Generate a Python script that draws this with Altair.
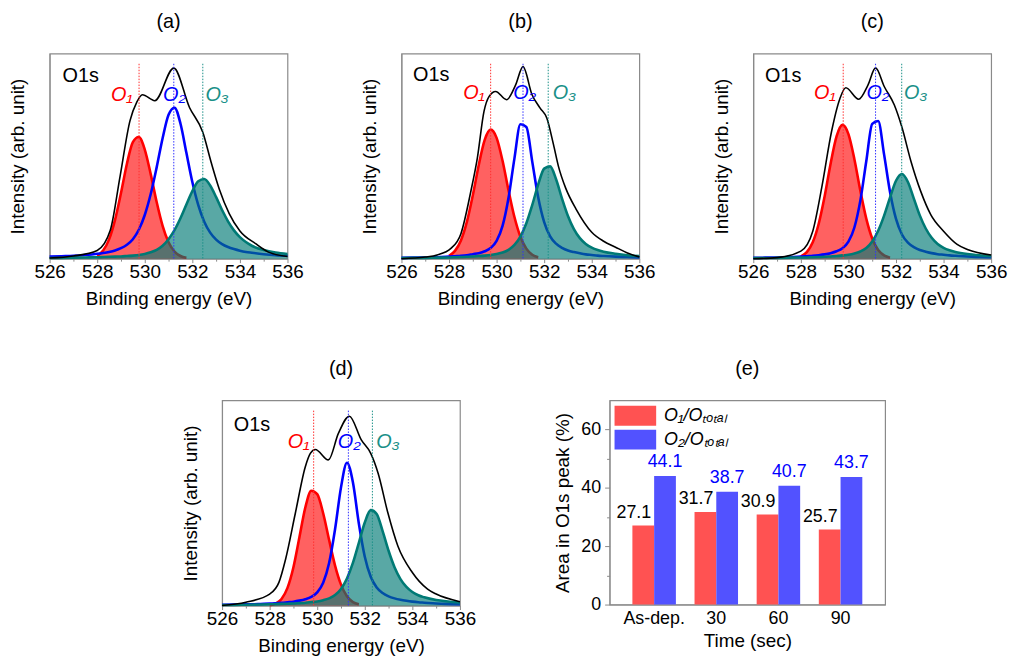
import altair as alt
import pandas as pd

FONT = "Liberation Sans, Arial, Helvetica, sans-serif"
N = None

# ---------------- XPS O1s spectra (panels a-d) ----------------
# binding-energy grid shared by the fitted components (eV)
E = [526, 526.5, 527, 527.5, 528, 528.25, 528.5, 528.75, 529, 529.25, 529.5, 529.75, 530, 530.25,
     530.5, 530.75, 531, 531.25, 531.5, 531.75, 532, 532.25, 532.5, 532.75, 533, 533.25, 533.5,
     533.75, 534, 534.25, 534.5, 535, 535.5, 536]

A_O1 = [N, N, N, N, 1.4, 4, 9.4, 18.9, 32, 46.3, 56.8, 59.3, 53.2, 41.2, 27.6, 16, 8, 3.5, 1.3, 0.4,
        N, N, N, N, N, N, N, N, N, N, N, N, N, N]
A_O2 = [1, 1.2, 1.4, 1.8, 2.4, 2.8, 3.3, 4, 5.1, 6.8, 9.5, 14.1, 21.3, 31.5, 44.5, 58.7, 70.1, 73.6, 65.9,
        51.6, 37.4, 26.1, 18, 12.7, 9.3, 7.1, 5.7, 4.7, 3.9, 3.3, 2.9, 2.2, 1.7, 1.4]
A_O3 = [0.3, 0.4, 0.5, 0.6, 0.7, 0.8, 0.9, 1, 1.1, 1.3, 1.5, 1.8, 2.3, 3.1, 4.3, 6.3, 9.5, 13.9, 19.7,
        26.4, 32.9, 37.7, 38.8, 35.7, 30, 23.7, 18.2, 13.8, 10.5, 8.1, 6.3, 4.2, 3, 2.3]
B_O1 = [N, N, N, N, 1.4, 3.8, 8.9, 17.9, 30.9, 45.7, 57.9, 62.9, 58.9, 47.7, 33.4, 20.3, 10.7, 4.9, 1.9, 0.7,
        N, N, N, N, N, N, N, N, N, N, N, N, N, N]
B_O2 = [0.4, 0.5, 0.6, 0.8, 1, 1.2, 1.4, 1.7, 2.2, 2.7, 3.6, 5.2, 8.7, 16, 29.6, 48.9, 65.5, 64.2, 47.2,
        29.8, 17.8, 10.9, 7.3, 5.3, 4, 3.2, 2.6, 2.1, 1.8, 1.5, 1.3, 1, 0.8, 0.6]
B_O3 = [0.3, 0.4, 0.4, 0.5, 0.6, 0.7, 0.8, 0.9, 1.1, 1.3, 1.5, 1.8, 2.3, 3, 4.3, 6.7, 10.8, 17.3, 26.2,
        36.2, 43.9, 45, 38.7, 29.3, 20.8, 14.4, 10, 7.2, 5.4, 4.2, 3.4, 2.4, 1.7, 1.3]
C_O1 = [N, N, N, N, 1.1, 3.2, 8, 17, 30.4, 46.3, 59.6, 65.2, 60.7, 48.5, 33.2, 19.5, 9.8, 4.2, 1.6, 0.5,
        N, N, N, N, N, N, N, N, N, N, N, N, N, N]
C_O2 = [0.4, 0.5, 0.6, 0.8, 1, 1.2, 1.4, 1.7, 2.1, 2.7, 3.6, 5.1, 8.3, 15.2, 28.3, 47.5, 65.7, 67.1, 50.7,
        32.4, 19.4, 11.8, 7.8, 5.6, 4.2, 3.4, 2.7, 2.2, 1.9, 1.6, 1.4, 1.1, 0.8, 0.7]
C_O3 = [0.3, 0.3, 0.4, 0.5, 0.6, 0.6, 0.7, 0.8, 0.9, 1.1, 1.3, 1.6, 1.9, 2.5, 3.5, 5.2, 8.4, 13.6, 21,
        29.9, 38, 41.3, 37.4, 29.3, 21.1, 14.7, 10.2, 7.2, 5.3, 4.1, 3.3, 2.3, 1.7, 1.3]
D_O1 = [N, N, N, N, 0.2, 1, 3.2, 8.6, 18.7, 33.2, 47.8, 56, 54.3, 45, 32, 19.5, 10.2, 4.5, 1.7, 0.6,
        N, N, N, N, N, N, N, N, N, N, N, N, N, N]
D_O2 = [0.4, 0.5, 0.6, 0.7, 1, 1.1, 1.3, 1.6, 1.9, 2.4, 3.1, 4.2, 6.4, 11.1, 20.7, 37.2, 57.6, 69.6, 60.1,
        40, 23.8, 14, 8.8, 6.1, 4.5, 3.5, 2.8, 2.3, 1.9, 1.6, 1.4, 1, 0.8, 0.7]
D_O3 = [0.3, 0.3, 0.4, 0.5, 0.6, 0.7, 0.8, 0.9, 1, 1.2, 1.4, 1.7, 2, 2.6, 3.5, 5.1, 8.1, 13.2, 20.8,
        30.6, 40.5, 46.5, 44.6, 36.3, 26.7, 18.7, 12.9, 9.1, 6.6, 5, 4, 2.7, 2, 1.5]

# measured envelopes (black curves)
A_ENV_E = [526, 527, 528, 528.55, 528.96, 529.38, 529.66, 529.9, 530.42, 531.22, 531.88, 532.44, 532.79,
           533.13, 533.55, 534, 534.66, 535.2, 536]
A_ENV_I = [0.3, 1.3, 4, 13.8, 40, 67.3, 76.2, 79.9, 77, 92.9, 73.7, 61.6, 47, 34, 22, 13.5, 7.3, 3.2, 1.1]
B_ENV_E = [526, 527, 527.5, 528.08, 528.5, 528.92, 529.19, 529.47, 529.68, 529.96, 530.42, 530.8, 531.11,
           531.49, 531.83, 532.11, 532.39, 532.6, 532.9, 533.34, 534, 534.5, 535, 535.5, 536]
B_ENV_I = [0, 0.8, 1.8, 5, 12.2, 33, 49, 71.8, 79, 81.5, 77.5, 84.7, 93.6, 79.9, 73.4, 68.6, 55.7, 45,
           34.5, 24.2, 12.9, 8.5, 5.6, 2.8, 0.8]
C_ENV_E = [526, 527, 528, 528.5, 528.875, 529.29, 529.64, 529.89, 530.43, 530.82, 531.14, 531.51, 531.93,
           532.24, 532.63, 533.04, 533.46, 534, 534.57, 535, 536]
C_ENV_I = [0, 0.5, 3.7, 13.4, 34.5, 62, 78, 83.3, 77.7, 84.6, 93, 83.8, 74.9, 64.4, 47.4, 32.8, 21.5,
           13.4, 7, 4.5, 1.8]
D_ENV_E = [526, 527, 528, 528.39, 528.67, 529.08, 529.5, 529.71, 529.92, 530.47, 530.89, 531.35, 531.86,
           532.25, 532.56, 532.97, 533.39, 534, 534.64, 535, 536]
D_ENV_I = [0, 1.6, 5.6, 11.3, 22.6, 45, 67.7, 74.2, 76.1, 71, 83.9, 92.3, 80.6, 74.2, 64.5, 45.2, 29,
           16.1, 8, 5.6, 1.9]

# peak positions (dotted lines) O1, O2, O3
A_PEAKS = [529.76, 531.22, 532.44]
B_PEAKS = [529.75, 531.11, 532.17]
C_PEAKS = [529.78, 531.14, 532.24]
D_PEAKS = [529.85, 531.31, 532.32]
RULE_TOP = 95

# label anchors: [O1s x, O1s y, O1 x, O2 x, O3 x, O-label y]
A_LAB = [526.54, 88.9, 529.04, 531.25, 533.04, 79.7]
B_LAB = [526.49, 89.5, 529.05, 531.18, 532.85, 80.6]
C_LAB = [526.49, 89.2, 529.01, 531.24, 532.83, 80.6]
D_LAB = [526.49, 87.9, 529.22, 531.35, 532.97, 79.8]

PEAK_NAMES = ["O\u2081", "O\u2082", "O\u2083"]

RED, BLUE, TEAL = "#ff0000", "#0000ff", "#007a75"
RULE_COLORS = ["#ff3030", "#3030ff", "#1a9088"]
LABEL_COLORS = ["#ff0000", "#0000ff", "#1a9088"]

XS = alt.Scale(domain=[526, 536], nice=False, zero=False)
YS = alt.Scale(domain=[0, 100], nice=False)
XAX = alt.Axis(values=list(range(526, 537)), labelExpr="datum.value % 2 == 0 ? datum.label : ''",
               tickSize={"condition": {"test": "datum.value % 2 == 0", "value": 4}, "value": 2.5},
               labelOverlap=False, labelFlush=False, title="Binding energy (eV)", grid=False, format="d",
               labelPadding=0, titlePadding=8)
YAX = alt.Axis(labels=False, ticks=False, title="Intensity (arb. unit)", grid=False, titlePadding=22)


def ex(f="E"):
    return alt.X(f + ":Q", scale=XS, axis=XAX)


def ey(f):
    return alt.Y(f + ":Q", scale=YS, axis=YAX)


def xps(title, o1, o2, o3, env_e, env_i, peaks, lab):
    df = pd.DataFrame({"E": E, "O1": o1, "O2": o2, "O3": o3})
    base = alt.Chart(df)
    env = alt.Chart(pd.DataFrame({"E": env_e, "I": env_i}))
    layers = [
        base.mark_area(color=RED, opacity=0.62, interpolate="monotone").encode(x=ex(), y=ey("O1")),
        base.mark_line(color=RED, strokeWidth=2.6, interpolate="monotone").encode(x=ex(), y=ey("O1")),
        base.mark_line(color=BLUE, strokeWidth=2.6, interpolate="monotone").encode(x=ex(), y=ey("O2")),
        base.mark_area(color=TEAL, opacity=0.65, interpolate="monotone").encode(x=ex(), y=ey("O3")),
        base.mark_line(color=TEAL, strokeWidth=2.6, interpolate="monotone").encode(x=ex(), y=ey("O3")),
        env.mark_line(color="black", strokeWidth=1.6, interpolate="monotone").encode(x=ex(), y=ey("I")),
    ]
    for i in range(3):
        rd = pd.DataFrame({"E": [peaks[i]], "top": [RULE_TOP], "bot": [0]})
        layers.append(alt.Chart(rd).mark_rule(color=RULE_COLORS[i], strokeWidth=1, strokeDash=[1.5, 1.5]).encode(
            x=ex(), y=ey("top"), y2="bot:Q"))
    od = pd.DataFrame({"E": [lab[0]], "v": [lab[1]], "t": ["O1s"]})
    layers.append(alt.Chart(od).mark_text(align="left", baseline="middle", fontSize=20, font=FONT,
                                          color="black").encode(x=ex(), y=ey("v"), text="t:N"))
    for i in range(3):
        td = pd.DataFrame({"E": [lab[2 + i]], "v": [lab[5]], "t": [PEAK_NAMES[i]]})
        layers.append(alt.Chart(td).mark_text(baseline="middle", fontSize=20, font=FONT, fontStyle="italic",
                                              color=LABEL_COLORS[i]).encode(x=ex(), y=ey("v"), text="t:N"))
    return alt.layer(*layers).properties(
        width=240, height=207,
        title=alt.TitleParams(title, fontSize=20, font=FONT, fontWeight="normal", offset=22))


# ---------------- panel (e): area fractions ----------------
times = ["As-dep.", "30", "60", "90"]
o1_ratio = [27.1, 31.7, 30.9, 25.7]
o2_ratio = [44.1, 38.7, 40.7, 43.7]
S1 = "O\u2081/O\u209c\u2092\u209c\u2090\u2097"
S2 = "O\u2082/O\u209c\u2092\u209c\u2090\u2097"

bdf = pd.DataFrame({"time": times * 2, "series": [S1] * 4 + [S2] * 4, "value": o1_ratio + o2_ratio})
bx = alt.X("time:N", sort=times, scale=alt.Scale(paddingInner=0.3, paddingOuter=0.367),
           axis=alt.Axis(title="Time (sec)", labelAngle=0, ticks=False, grid=False, labelPadding=5,
                         titlePadding=4, labelFontSize=18))
bxo = alt.XOffset("series:N", sort=[S1, S2])
by = alt.Y("value:Q", scale=alt.Scale(domain=[0, 70], nice=False),
           axis=alt.Axis(values=[0, 10, 20, 30, 40, 50, 60],
                         labelExpr="datum.value % 20 == 0 ? datum.label : ''",
                         tickSize={"condition": {"test": "datum.value % 20 == 0", "value": 5}, "value": 3},
                         labelOverlap=False, title="Area in O1s peak (%)", grid=False, titlePadding=8,
                         labelPadding=4, labelFontSize=18))
bbase = alt.Chart(bdf)
bars = bbase.mark_bar().encode(
    x=bx, xOffset=bxo, y=by,
    color=alt.Color("series:N", sort=[S1, S2], scale=alt.Scale(domain=[S1, S2], range=["#ff5252", "#5252ff"]),
                    legend=alt.Legend(title=None, orient="top-left", offset=5, padding=0,
                                      symbolType="M-1,-0.95H3V0.95H-1Z", symbolSize=441,
                                      symbolStrokeWidth=0, symbolOpacity=1, labelFontSize=18,
                                      labelFontStyle="italic", labelFont=FONT, rowPadding=3, labelOffset=29)))
t1 = bbase.transform_filter(alt.datum.series == S1).mark_text(
    align="right", baseline="middle", dx=8, dy=-13, fontSize=18, font=FONT, color="black").encode(
    x=bx, xOffset=bxo, y=by, text=alt.Text("value:Q", format=".1f"))
t2 = bbase.transform_filter(alt.datum.series == S2).mark_text(
    align="center", baseline="middle", dy=-14, fontSize=18, font=FONT, color=BLUE).encode(
    x=bx, xOffset=bxo, y=by, text=alt.Text("value:Q", format=".1f"))
pe = alt.layer(bars, t1, t2).properties(
    width=278, height=206,
    title=alt.TitleParams("(e)", fontSize=20, font=FONT, fontWeight="normal", offset=22))

# empty placeholder that shifts panel (d) to the right (same left extent as panel (a))
spacer = alt.Chart(pd.DataFrame({"v": [0]})).mark_point(opacity=0).encode(
    x=alt.X("v:Q", axis=None),
    y=alt.Y("v:Q", axis=alt.Axis(title=" ", labels=False, ticks=False, domain=False, grid=False,
                                 titlePadding=22))
).properties(width=23, height=206, view=alt.ViewBackground(stroke="transparent"))

pa = xps("(a)", A_O1, A_O2, A_O3, A_ENV_E, A_ENV_I, A_PEAKS, A_LAB)
pb = xps("(b)", B_O1, B_O2, B_O3, B_ENV_E, B_ENV_I, B_PEAKS, B_LAB)
pc = xps("(c)", C_O1, C_O2, C_O3, C_ENV_E, C_ENV_I, C_PEAKS, C_LAB)
pd_ = xps("(d)", D_O1, D_O2, D_O3, D_ENV_E, D_ENV_I, D_PEAKS, D_LAB)

row1 = alt.hconcat(pa, pb, pc, spacing=115, bounds="flush")
row2 = alt.hconcat(spacer, pd_, pe, spacing=151, bounds="flush").resolve_scale(
    color="independent").resolve_legend(color="independent")
chart = alt.vconcat(row1, row2, spacing=49, bounds="full").properties(
    padding={"left": 0, "top": 0, "right": 0, "bottom": 0}
).resolve_scale(color="independent").resolve_legend(color="independent").configure_view(
    stroke="#8a8a8a", strokeWidth=1.2
).configure_axis(
    domainColor="#8a8a8a", tickColor="#8a8a8a", labelFont=FONT, titleFont=FONT, labelFontSize=19,
    titleFontSize=19, titleFontWeight="normal", labelColor="black", titleColor="black", grid=False
).configure_title(font=FONT, fontSize=20, fontWeight="normal")

chart.save("out.html", embed_options={"renderer": "svg", "actions": False})
